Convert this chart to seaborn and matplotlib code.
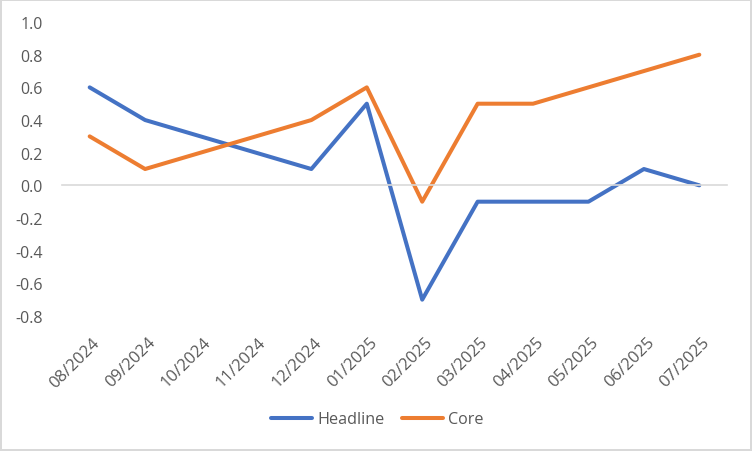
import pandas as pd
import matplotlib.pyplot as plt
import seaborn as sns

# Data
months = ["08/2024", "09/2024", "10/2024", "11/2024", "12/2024", "01/2025",
          "02/2025", "03/2025", "04/2025", "05/2025", "06/2025", "07/2025"]
headline = [0.6, 0.4, 0.3, 0.2, 0.1, 0.5, -0.7, -0.1, -0.1, -0.1, 0.1, 0.0]
core = [0.3, 0.1, 0.2, 0.3, 0.4, 0.6, -0.1, 0.5, 0.5, 0.6, 0.7, 0.8]

df = pd.DataFrame({"Month": months, "Headline": headline, "Core": core})
df["pos"] = range(len(df))
long = df.melt(id_vars=["Month", "pos"], value_vars=["Headline", "Core"],
               var_name="Series", value_name="Value")

sns.set_style("white")
plt.rcParams["font.family"] = ["Open Sans", "DejaVu Sans"]
text_color = "#595959"

fig = plt.figure(figsize=(7.52, 4.52), dpi=100)
fig.patch.set_edgecolor("#d9d9d9")
fig.patch.set_linewidth(1.5)
ax = fig.add_axes([0.0824, 0.2987, 0.8844, 0.6503])

sns.lineplot(data=long, x="pos", y="Value", hue="Series",
             palette={"Headline": "#4472C4", "Core": "#ED7D31"},
             linewidth=2.9, sort=False, ax=ax, legend=True)

n = len(months)
ax.set_xlim(-0.5, n - 0.5)
ax.set_ylim(-0.8, 1.0)
ax.set_yticks([i / 10 for i in range(-8, 11, 2)])
ax.set_yticklabels([f"{i / 10:.1f}" for i in range(-8, 11, 2)])
ax.tick_params(axis="y", length=0, pad=14, labelsize=11.5, labelcolor=text_color)

for s in ["top", "right", "left"]:
    ax.spines[s].set_visible(False)

# zero axis line with ticks between categories
ax.spines["bottom"].set_position(("data", 0))
ax.spines["bottom"].set_color("#d9d9d9")
ax.spines["bottom"].set_linewidth(1.2)
ax.set_xticks([i - 0.5 for i in range(n + 1)])
ax.set_xticklabels([])
ax.tick_params(axis="x", length=5, width=1.2, color="#d9d9d9", direction="out")
ax.set_xlabel("")
ax.set_ylabel("")

# category labels at the bottom of the plot area
sec = ax.secondary_xaxis(0.0)
sec.spines["bottom"].set_visible(False)
sec.set_xticks([i + 0.04 for i in range(n)])
sec.set_xticklabels(months, rotation=45, ha="right", rotation_mode="anchor")
sec.tick_params(axis="x", length=0, pad=13, labelsize=12, labelcolor=text_color)

# legend centred on the whole figure
handles, labels = ax.get_legend_handles_labels()
ax.get_legend().remove()
fig.legend(handles, labels, frameon=False, loc="center",
           bbox_to_anchor=(0.502, 0.07), ncol=2, fontsize=11.6,
           labelcolor=text_color, handlelength=2.5, handletextpad=0.35,
           columnspacing=1.1)

fig.savefig("out.png", dpi=100, edgecolor=fig.get_edgecolor())
